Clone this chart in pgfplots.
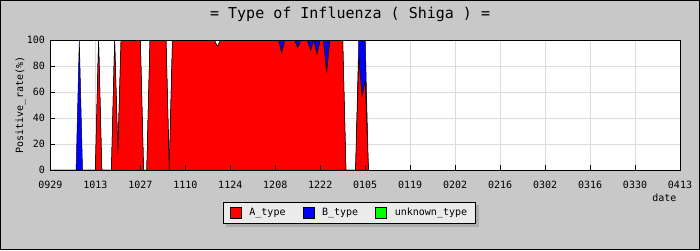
\documentclass[border=0pt]{standalone}
\usepackage{pgfplots}
\pgfplotsset{compat=1.18}
\usepackage{pgfplotstable}
\usepackage{fontspec}
\setmainfont{DejaVu Sans Mono}
\definecolor{bggray}{RGB}{200,200,200}
\definecolor{gridgray}{RGB}{220,220,220}
\definecolor{legendgray}{RGB}{235,235,235}
\definecolor{shadowgray}{RGB}{172,172,172}
\definecolor{cred}{RGB}{255,0,0}
\definecolor{cblue}{RGB}{0,0,255}
\definecolor{cgreen}{RGB}{0,255,0}

\pgfplotstableread{
day A B
0 0 0
8 0 0
9 0 100
10 0 0
14 0 0
15 100 0
16 0 0
19 0 0
20 100 0
21 13 0
22 100 0
28 100 0
29 0 0
30 0 0
31 100 0
36 100 0
37 0 0
38 100 0
51 100 0
52 95 0
53 100 0
71 100 0
72 90 10
73 100 0
76 100 0
77 94 6
78 100 0
80 100 0
81 92 8
82 100 0
83 89 11
84 100 0
85 100 0
86 75 25
87 100 0
91 100 0
92 0 0
95 0 0
96 86 14
97 57 43
98 68 32
99 0 0
}\fludata

\pgfplotsset{
  sqlegend/.style={legend image code/.code={\draw[##1,draw=black,line width=0.6pt] (0pt,-5.5pt) rectangle (11pt,5.5pt);}},
  commonlegend/.style={legend columns=3,
    legend style={at={(axis description cs:0.475,-0.327)}, anchor=center,
    line width=0.8pt,
    font=\fontsize{10}{12}\selectfont,
    inner xsep=6pt, inner ysep=4pt,
    /tikz/every odd column/.append style={column sep=6pt},
    /tikz/every even column/.append style={column sep=15pt}}},
  commonaxis/.style={at={(50.4pt,80pt)}, anchor=south west,
    scale only axis, width=629.6pt, height=130pt,
    xmin=0, xmax=196, ymin=0, ymax=100,
    xtick={0,14,...,196}, ytick={0,20,...,100}},
}

\begin{document}
\begin{tikzpicture}
\fill[bggray] (0,0) rectangle (700pt,250pt);
\draw[black,line width=1pt] (0.5pt,0.5pt) rectangle (699.5pt,249.5pt);
\path[use as bounding box] (0,0) rectangle (700pt,250pt);

% main axis: grid, data, labels; its legend serves as the legend's shadow
\begin{axis}[
  commonaxis,
  xticklabels={0929,1013,1027,1110,1124,1208,1222,0105,0119,0202,0216,0302,0316,0330,0413},
  grid=major, grid style={color=gridgray, line width=0.9pt},
  major tick length=0pt,
  axis background/.style={fill=white},
  axis line style={black, line width=0.8pt},
  tick label style={font=\fontsize{10}{12}\selectfont},
  /pgf/number format/assume math mode=true,
  xticklabel style={yshift=-8pt},
  yticklabel style={xshift=-2pt},
  xlabel={date},
  xlabel style={at={(axis description cs:1,0)}, anchor=north east, yshift=-20pt, font=\fontsize{10}{12}\selectfont},
  ylabel={Positive\_rate(\%)},
  ylabel style={at={(axis description cs:-0.0476,0.5)}, anchor=center, font=\fontsize{10}{12}\selectfont},
  title={= Type of Influenza ( Shiga ) =},
  title style={at={(axis description cs:0.476,1)}, anchor=center, yshift=20pt, font=\fontsize{15}{18}\selectfont},
  stack plots=y,
  commonlegend,
  legend style={xshift=3pt, yshift=-3pt, draw=shadowgray, fill=shadowgray, text=shadowgray},
]
\addplot[fill=cred, draw=black, line width=0.5pt, sqlegend] table[x=day,y=A]{\fludata} \closedcycle;
\addplot[fill=cblue, draw=black, line width=0.5pt, sqlegend] table[x=day,y=B]{\fludata} \closedcycle;
\addlegendimage{fill=cgreen, sqlegend}
\legend{\phantom{A\_type},\phantom{B\_type},\phantom{unknown\_type}}
\end{axis}

% overlay axis: tick marks, frame and the visible legend
\begin{axis}[
  commonaxis,
  xticklabels={}, yticklabels={},
  tick align=inside, major tick length=5pt, tick pos=left,
  tick style={black, line width=0.8pt},
  axis line style={black, line width=0.8pt},
  commonlegend,
  legend style={draw=black, fill=legendgray},
]
\addplot[draw=none, mark=none, forget plot] coordinates {(0,0)};
\addlegendimage{fill=cred, sqlegend}
\addlegendimage{fill=cblue, sqlegend}
\addlegendimage{fill=cgreen, sqlegend}
\legend{A\_type,B\_type,unknown\_type}
\end{axis}
\end{tikzpicture}
\end{document}
